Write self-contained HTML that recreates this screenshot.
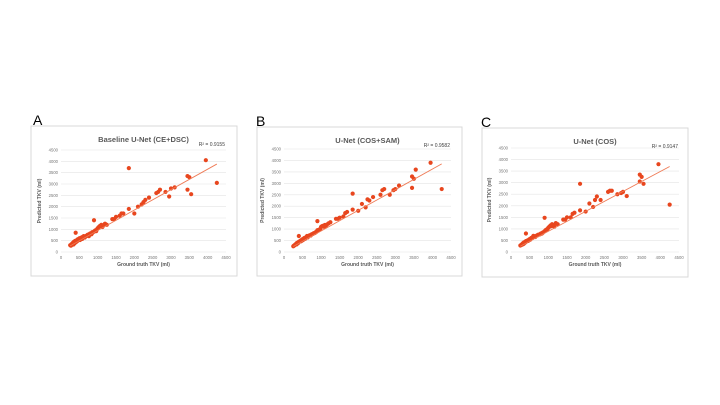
<!DOCTYPE html>
<html><head><meta charset="utf-8"><style>
body{margin:0;background:#fff;}
svg{display:block;font-family:"Liberation Sans",sans-serif;}
</style></head><body>
<svg id="fig" width="720" height="405" viewBox="0 0 720 405"></svg>
<script>
const gtLow=[250,270,290,300,320,340,350,370,390,400,420,440,450,470,490,500,520,540,560,580,600,620,650,680,700,730,760,800,830,860,900,930,960,1000,1030,1060,1100,1130,1160,1200,1250,330,380,460,510,570,640,720,780,850,980,1080];
const gtHigh=[400,900,1400,1450,1500,1600,1650,1700,1850,1850,2000,2100,2200,2250,2300,2400,2600,2650,2700,2850,2950,3000,3100,3450,3450,3500,3550,3950,4250];
const predLowA=[300,280,350,320,400,330,450,380,420,500,450,480,550,520,560,600,530,620,600,580,650,700,640,700,720,760,700,820,780,850,900,950,920,1050,1100,1150,1200,1100,1180,1250,1200,400,480,560,600,650,680,750,800,870,1000,1150];
const predHighA=[850,1400,1450,1450,1550,1600,1700,1700,3700,1900,1700,2000,2100,2200,2300,2400,2600,2650,2750,2650,2450,2800,2850,2750,3350,3300,2550,4050,3050];
const predLowB=[250,280,300,320,350,330,400,380,420,450,460,480,500,520,540,560,550,600,620,600,650,700,680,720,720,760,780,820,830,870,950,960,990,1100,1130,1150,1180,1150,1200,1250,1300,340,390,470,520,580,640,720,790,860,1000,1100];
const predHighB=[700,1350,1450,1450,1500,1550,1700,1750,2550,1850,1800,2100,1950,2300,2250,2400,2500,2700,2750,2500,2700,2750,2900,2800,3300,3200,3600,3900,2750];
const predLowC=[280,300,330,320,380,350,420,400,430,470,460,500,480,520,540,560,550,600,620,640,700,680,650,700,720,750,760,800,800,850,900,950,980,1050,1100,1150,1200,1150,1100,1250,1200,360,420,480,530,600,660,730,770,840,1000,1120];
const predHighC=[800,1480,1400,1400,1500,1500,1650,1700,2950,1800,1750,2100,1950,2250,2400,2250,2600,2650,2650,2500,2550,2600,2420,3050,3350,3250,2950,3800,2050];
const ticks=[0,500,1000,1500,2000,2500,3000,3500,4000,4500];
const panels=[
 {id:'a',letter:'A',title:'Baseline U-Net (CE+DSC)',r2:'R² = 0.9155',box:[31,126,206,150],px:[61,226],py:[252,150],lowY:predLowA,highY:predHighA,fit:[250,4250,270,3880],lx:33,ly:126},
 {id:'b',letter:'B',title:'U-Net (COS+SAM)',r2:'R² = 0.9582',box:[257,127,205,149],px:[284,451],py:[252,149],lowY:predLowB,highY:predHighB,fit:[250,4250,240,3850],lx:256,ly:127},
 {id:'c',letter:'C',title:'U-Net (COS)',r2:'R² = 0.9147',box:[482,128,206,149],px:[511,679],py:[252,148],lowY:predLowC,highY:predHighC,fit:[250,4250,250,3700],lx:481,ly:128}
];
const NS='http://www.w3.org/2000/svg';
const svg=document.getElementById('fig');
function mk(tag,attrs,parent,text){const e=document.createElementNS(NS,tag);for(const k in attrs)e.setAttribute(k,attrs[k]);if(text!==undefined)e.textContent=text;(parent||svg).appendChild(e);return e;}
panels.forEach(p=>{
 const g=mk('g',{});
 
 
 const sx=v=>p.px[0]+(p.px[1]-p.px[0])*v/4500;
 const sy=v=>p.py[0]+(p.py[1]-p.py[0])*v/4500;
 const bx=mk('rect',{x:p.box[0],y:p.box[1],width:p.box[2],height:p.box[3],fill:'#fff',stroke:'#d9d9d9','stroke-width':1},g);
 
 
 const lt=mk('text',{x:p.lx,y:p.ly-1,'font-size':14,fill:'#000'},g,p.letter);
 
 
 ticks.forEach(t=>{
  const gl=mk('line',{x1:p.px[0],x2:p.px[1],y1:sy(t),y2:sy(t),stroke:'#e4e4e4','stroke-width':0.6},g);
  
  
  const yl=mk('text',{x:p.px[0]-3,y:sy(t)+1.5,'font-size':4.2,fill:'#777','text-anchor':'end'},g,t);
  
  
  const xl=mk('text',{x:sx(t),y:p.py[0]+7,'font-size':4.2,fill:'#777','text-anchor':'middle'},g,t);
  
  
 });
 const ti=mk('text',{x:(p.px[0]+p.px[1])/2,y:p.box[1]+16,'font-size':7.5,'font-weight':'bold',fill:'#595959','text-anchor':'middle'},g,p.title);
 
 
 const r=mk('text',{x:p.px[1]-1,y:p.box[1]+20,'font-size':5,fill:'#404040','text-anchor':'end'},g,p.r2);
 
 
 const xt=mk('text',{x:(p.px[0]+p.px[1])/2,y:p.py[0]+14,'font-size':5,'font-weight':'bold',fill:'#595959','text-anchor':'middle'},g,'Ground truth TKV (ml)');
 
 
 const yx=p.px[0]-20, ym=(p.py[0]+p.py[1])/2;
 const yt=mk('text',{x:yx,y:ym,'font-size':5,'font-weight':'bold',fill:'#595959','text-anchor':'middle',transform:`rotate(-90 ${yx} ${ym})`},g,'Predicted TKV (ml)');
 
 
 const xs=gtLow.concat(gtHigh), ys=p.lowY.concat(p.highY);
 xs.forEach((x,i)=>{
  const c=mk('circle',{cx:sx(x),cy:sy(ys[i]),r:2.1,fill:'#e8461e'},g);
  
  
 });
 const f=mk('line',{x1:sx(p.fit[0]),y1:sy(p.fit[2]),x2:sx(p.fit[1]),y2:sy(p.fit[3]),stroke:'#ef7a55','stroke-width':0.9},g);
 
 
});
</script>
</body></html>
